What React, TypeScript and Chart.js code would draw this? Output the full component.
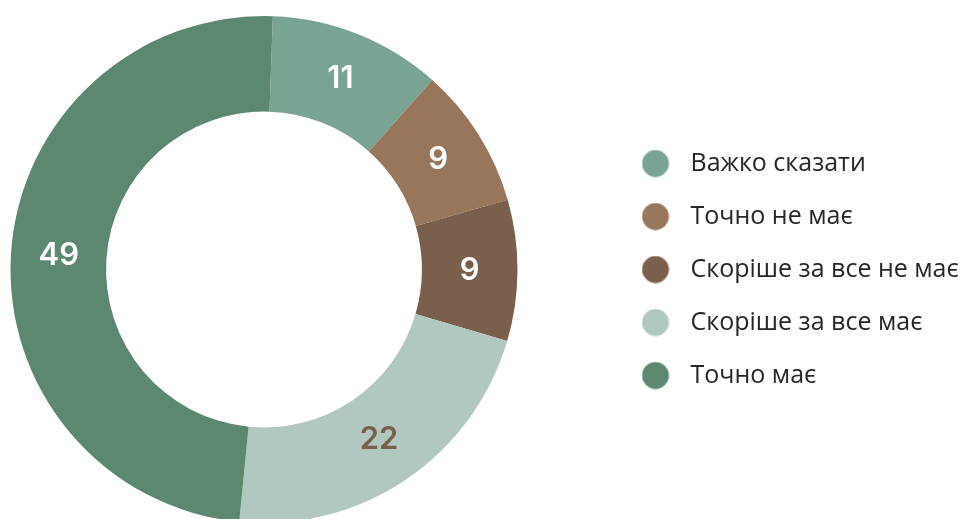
import { useEffect, useRef } from "react";
import { Chart, registerables } from "chart.js";

Chart.register(...registerables);

const categories = [
  "Важко сказати",
  "Точно не має",
  "Скоріше за все не має",
  "Скоріше за все має",
  "Точно має",
];
const values = [11, 9, 9, 22, 49];
const sliceColors = ["#79a393", "#98765c", "#7a5f4c", "#b0c8bf", "#5c8872"];
const valueLabelColors = ["#ffffff", "#ffffff", "#ffffff", "#7a5f4c", "#ffffff"];

const CANVAS_W = 1100;
const CANVAS_H = 540;
const OFFSET_X = -77;
const LEGEND_FAMILY = "'Open Sans', sans-serif";
const LEGEND_SIZE = 25;
const LEGEND_PAD = 28;
const BOX_W = 45;
const LEGEND_LEFT_PAGE = 605;

function makeDot(color: string) {
  const c = document.createElement("canvas");
  c.width = 28;
  c.height = 28;
  const ctx = c.getContext("2d")!;
  ctx.fillStyle = color;
  ctx.beginPath();
  ctx.arc(14, 14, 13.4, 0, Math.PI * 2);
  ctx.fill();
  return c;
}

const valueLabelsPlugin = {
  id: "valueLabels",
  afterDatasetsDraw(chart: any) {
    const ctx = chart.ctx;
    const meta = chart.getDatasetMeta(0);
    ctx.save();
    ctx.font = "600 31px Inter, sans-serif";
    ctx.textAlign = "center";
    ctx.textBaseline = "middle";
    meta.data.forEach((arc: any, i: number) => {
      const p = arc.tooltipPosition();
      ctx.fillStyle = valueLabelColors[i];
      ctx.fillText(String(values[i]), p.x, p.y);
    });
    ctx.restore();
  },
};

export default function App() {
  const ref = useRef<HTMLCanvasElement | null>(null);
  useEffect(() => {
    if (!ref.current) return;
    const mctx = document.createElement("canvas").getContext("2d")!;
    mctx.font = `${LEGEND_SIZE}px ${LEGEND_FAMILY}`;
    const maxText = Math.max(...categories.map((c) => mctx.measureText(c).width));
    const legendWidth = LEGEND_PAD + BOX_W + LEGEND_SIZE / 2 + maxText + 10;
    const padRight = CANVAS_W - (LEGEND_LEFT_PAGE - OFFSET_X) - legendWidth;
    const dots = sliceColors.map(makeDot);

    const chart = new Chart(ref.current, {
      type: "doughnut",
      data: {
        labels: categories,
        datasets: [
          {
            data: values,
            backgroundColor: sliceColors,
            borderWidth: 0,
            hoverOffset: 0,
          },
        ],
      },
      options: {
        responsive: false,
        animation: false,
        rotation: 2,
        cutout: "62.3%",
        layout: { padding: { left: 0, top: 16, bottom: 17, right: padRight } },
        plugins: {
          tooltip: { enabled: false },
          legend: {
            position: "right",
            labels: {
              usePointStyle: true,
              pointStyleWidth: BOX_W,
              boxHeight: LEGEND_SIZE,
              padding: LEGEND_PAD,
              color: "#262626",
              font: { family: LEGEND_FAMILY, size: LEGEND_SIZE },
              generateLabels(ch: any) {
                const items = Chart.overrides.doughnut.plugins.legend.labels.generateLabels(ch);
                return items.map((it: any, i: number) => ({ ...it, pointStyle: dots[i] }));
              },
            },
          },
        },
      },
      plugins: [valueLabelsPlugin],
    } as any);
    return () => chart.destroy();
  }, []);

  return (
    <div
      style={{
        position: "fixed",
        left: 0,
        top: 0,
        width: 965,
        height: 519,
        overflow: "hidden",
        background: "#ffffff",
      }}
    >
      <canvas
        ref={ref}
        width={CANVAS_W}
        height={CANVAS_H}
        style={{ position: "absolute", left: OFFSET_X, top: 0, width: CANVAS_W, height: CANVAS_H }}
      />
    </div>
  );
}
